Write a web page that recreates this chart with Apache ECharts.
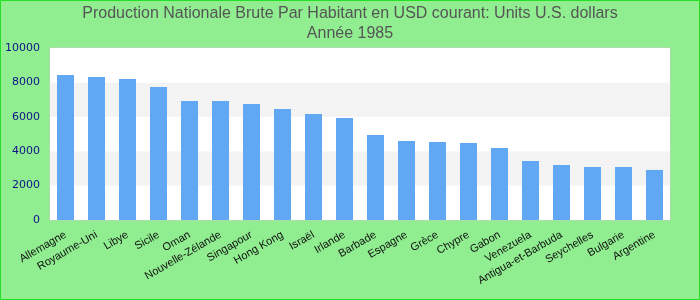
<!DOCTYPE html>
<html><head><meta charset="utf-8">
<script src="https://cdn.jsdelivr.net/npm/echarts@6/dist/echarts.min.js"></script>
<style>html,body{margin:0;padding:0;background:#90ee90}#c{width:700px;height:300px}</style>
</head><body><div id="c"></div>
<script>
var titleText = "Production Nationale Brute Par Habitant en USD courant: Units U.S. dollars\nAnnée 1985";
var categories = ["Allemagne","Royaume-Uni","Libye","Sicile","Oman","Nouvelle-Zélande","Singapour","Hong Kong","Israël","Irlande","Barbade","Espagne","Grèce","Chypre","Gabon","Venezuela","Antigua-et-Barbuda","Seychelles","Bulgarie","Argentine"];
var values = [8430,8310,8200,7730,6920,6920,6740,6450,6160,5930,4940,4590,4540,4480,4190,3430,3200,3080,3080,2910];
var yMin = 0, yMax = 10000, yInterval = 2000;

var chart = echarts.init(document.getElementById('c'), null, {renderer:'canvas'});
chart.setOption({
  backgroundColor: '#90ee90',
  animation: false,
  title: {
    text: titleText, left: 'center', top: -1,
    textStyle: {fontFamily: 'Liberation Sans', fontSize: 16, fontWeight: 'normal', color: '#555555', lineHeight: 20}
  },
  graphic: [{type:'rect', shape:{x:0.5,y:0.5,width:699,height:299}, style:{fill:'none', stroke:'#22e022', lineWidth:1}, silent:true}],
  grid: {left: 50, right: 30, top: 48, bottom: 80, show: true, backgroundColor: '#ffffff', borderColor: '#cccccc', borderWidth: 1},
  xAxis: {
    type: 'category', data: categories,
    axisLine: {show: false}, axisTick: {show: false},
    axisLabel: {rotate: 30, interval: 0, fontFamily: 'Liberation Sans', fontSize: 11, color: '#111111', margin: 14}
  },
  yAxis: {
    type: 'value', min: yMin, max: yMax, interval: yInterval,
    axisLine: {show: false}, axisTick: {show: false},
    splitLine: {show: false},
    splitArea: {show: true, areaStyle: {color: ['#ffffff', '#f3f3f3']}},
    axisLabel: {fontFamily: 'DejaVu Sans', fontSize: 11, color: '#10108a', margin: 10, formatter: function(v){return String(v);}}
  },
  series: [{
    type: 'bar', data: values, barWidth: 17,
    itemStyle: {color: '#60a8f4'}
  }]
});
</script></body></html>
